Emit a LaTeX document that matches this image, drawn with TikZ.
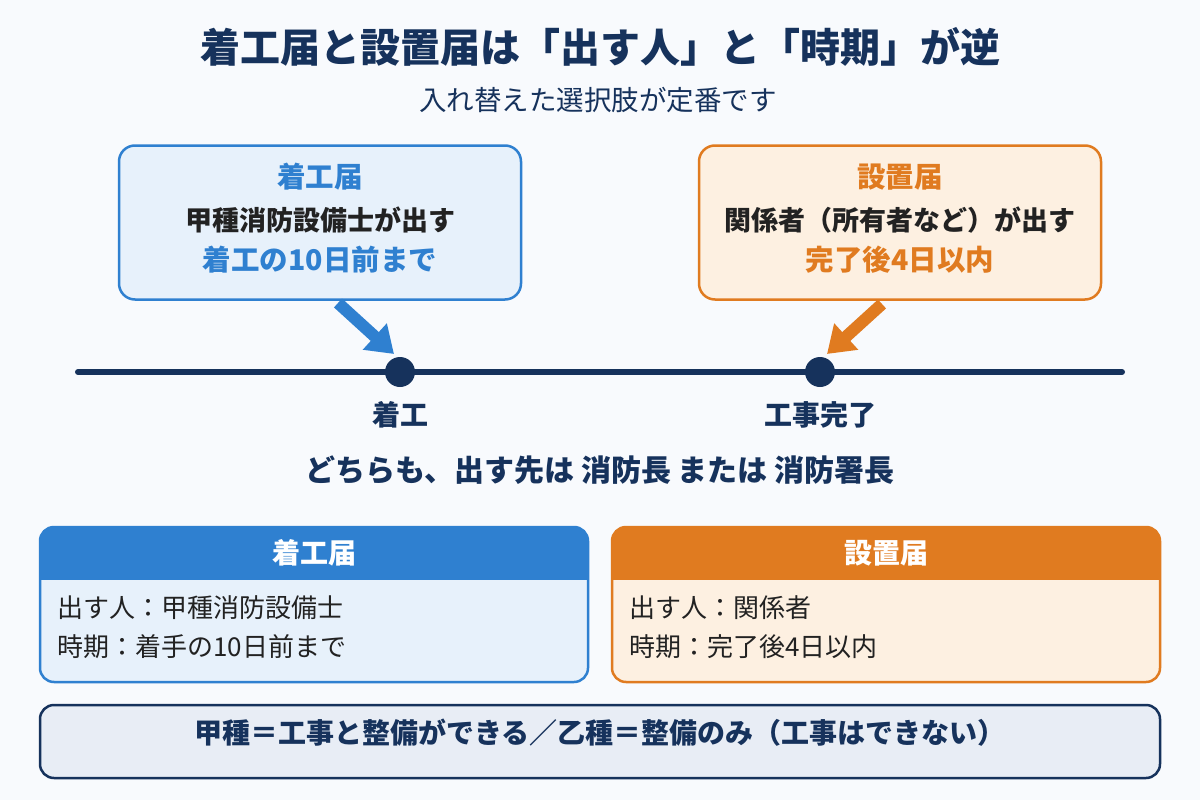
\documentclass[tikz,border=0pt]{standalone}
\usepackage{fontspec}
\setmainfont{Noto Sans CJK JP}
\usetikzlibrary{arrows.meta}
\definecolor{bgc}{HTML}{F8FAFD}
\definecolor{navy}{HTML}{16325C}
\definecolor{cblue}{HTML}{2F80D0}
\definecolor{lblue}{HTML}{E7F1FB}
\definecolor{corange}{HTML}{E07B20}
\definecolor{lorange}{HTML}{FDF0E1}
\definecolor{footfill}{HTML}{E8EDF5}
\definecolor{dark}{HTML}{222222}
\tikzset{
  fs/.style={font=\fontsize{#1}{#1}\selectfont},
  fsb/.style={font=\fontsize{#1}{#1}\selectfont\bfseries},
  topbox/.style={rounded corners=16, line width=2.5, minimum width=402, minimum height=154, outer sep=0},
  dot/.style={circle, fill=navy, minimum size=30, inner sep=0},
  callout/.style={line width=12, -{Triangle[width=34,length=26]}},
  cardbody/.style={rounded corners=14, minimum width=548, minimum height=155, outer sep=0, inner sep=0},
  bodytext/.style={fs=26, text=dark, anchor=west, inner sep=0},
}
\begin{document}
\begin{tikzpicture}[x=1pt,y=-1pt]
\fill[bgc] (0,0) rectangle (1200,800);
\useasboundingbox (0,0) rectangle (1200,800);

% titles
\node[fsb=40, text=navy] (title) at (600,47) {着工届と設置届は「出す人」と「時期」が逆};
\node[fs=27.5, text=navy] (sub) at (598,100) {入れ替えた選択肢が定番です};

% top boxes
\node[topbox, draw=cblue, fill=lblue] (tb1) at (320,222.5) {};
\node[fsb=28.5, text=cblue] (tb1a) at (320,177) {着工届};
\node[fsb=27, text=dark] (tb1b) at (320,220) {甲種消防設備士が出す};
\node[fsb=28.5, text=cblue] (tb1c) at (320,260) {着工の10日前まで};

\node[topbox, draw=corange, fill=lorange] (tb2) at (900,222.5) {};
\node[fsb=28.5, text=corange] (tb2a) at (900,177) {設置届};
\node[fsb=27, text=dark] (tb2b) at (900,220) {関係者（所有者など）が出す};
\node[fsb=28.5, text=corange] (tb2c) at (900,260) {完了後4日以内};

% timeline
\coordinate (tl0) at (78,372);
\coordinate (tl1) at (1122,372);
\draw[navy, line width=6, line cap=round] (tl0) -- (tl1);
\node[dot] (d1) at (400,372) {};
\node[dot] (d2) at (820,372) {};
\node[fsb=28, text=navy] (lab1) at (400,415) {着工};
\node[fsb=28, text=navy] (lab2) at (820,415) {工事完了};

% callout arrows
\coordinate (a1s) at (338,303);
\coordinate (a1e) at (394,354);
\draw[callout, cblue] (a1s) -- (a1e);
\coordinate (a2s) at (882,304);
\coordinate (a2e) at (827,354);
\draw[callout, corange] (a2s) -- (a2e);

\node[fsb=30, text=navy] (common) at (600,470) {どちらも、出す先は 消防長 または 消防署長};

% bottom cards
\node[cardbody, fill=lblue] (c1) at (314,604.5) {};
\begin{scope}
\clip[rounded corners=14] (c1.north west) rectangle (c1.south east);
\fill[cblue] (c1.north west) rectangle ([yshift=-53]c1.north east);
\end{scope}
\draw[cblue, line width=2.5, rounded corners=14] (c1.north west) rectangle (c1.south east);
\node[fsb=28, text=white] (c1h) at (314,553) {着工届};
\node[bodytext] (c1a) at (57,608) {出す人：甲種消防設備士};
\node[bodytext] (c1b) at (57,647) {時期：着手の10日前まで};

\node[cardbody, fill=lorange] (c2) at (886,604.5) {};
\begin{scope}
\clip[rounded corners=14] (c2.north west) rectangle (c2.south east);
\fill[corange] (c2.north west) rectangle ([yshift=-53]c2.north east);
\end{scope}
\draw[corange, line width=2.5, rounded corners=14] (c2.north west) rectangle (c2.south east);
\node[fsb=28, text=white] (c2h) at (886,553) {設置届};
\node[bodytext] (c2a) at (629,608) {出す人：関係者};
\node[bodytext] (c2b) at (629,647) {時期：完了後4日以内};

% footer
\node[draw=navy, fill=footfill, rounded corners=14, line width=2.5, minimum width=1120, minimum height=73, outer sep=0] (foot) at (600,741.5) {};
\node[fsb=28, text=navy] (foottext) at (600,733) {甲種＝工事と整備ができる／乙種＝整備のみ（工事はできない）};
\end{tikzpicture}
\end{document}
